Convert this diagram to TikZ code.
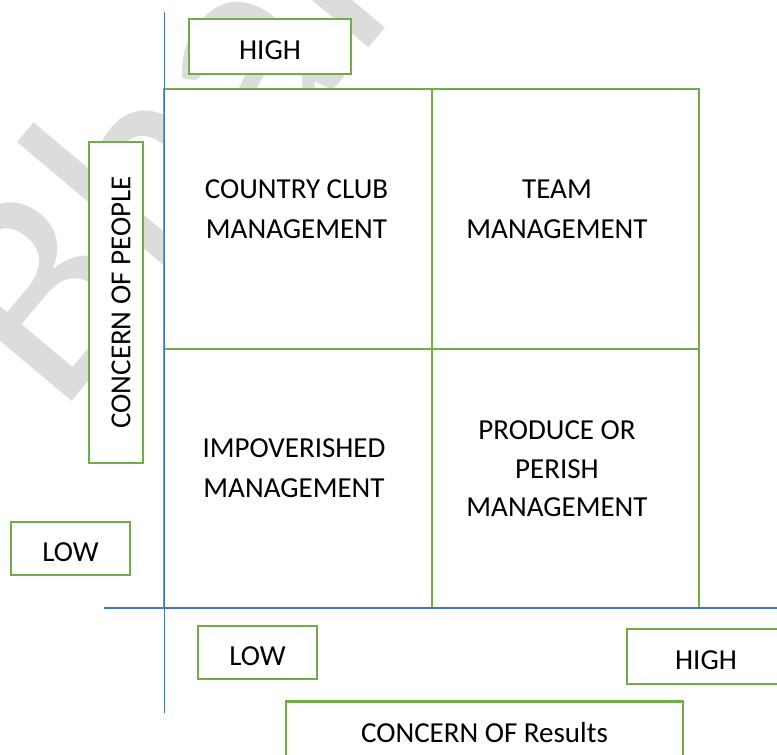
\documentclass[tikz,border=0pt]{standalone}
\usepackage{fontspec}
\setmainfont{Carlito}
\definecolor{boxgreen}{HTML}{70AD47}
\definecolor{axisblue}{HTML}{4472C4}
\definecolor{wmgray}{HTML}{DCDCDC}
\begin{document}
\begin{tikzpicture}[x=1pt,y=-1pt,
  txt/.style={font=\fontsize{29}{40}\selectfont, align=center, inner sep=0pt},
  tag/.style={draw=boxgreen, fill=white, line width=2.2pt, inner sep=0pt,
              text height=25pt, text depth=0pt,
              font=\fontsize{29}{40}\selectfont},
  grid/.style={draw=boxgreen, line width=2.2pt},
  axis/.style={draw=axisblue, line width=1.3pt}]
\useasboundingbox (0,0) rectangle (777,755);
\clip (0,0) rectangle (777,755);
\fill[white] (0,0) rectangle (777,755);

% watermark along the page diagonal
\node[rotate=50, anchor=base west, inner sep=0pt, text=wmgray,
      font=\fontsize{300}{300}\selectfont] (wm) at (58,418) {Bharat};

% quadrant grid
\fill[white] (164,89) rectangle (699,608);
\draw[grid] (164,89) rectangle (699,608);
\draw[grid] (432,89) -- (432,608);
\draw[grid] (164,349) -- (699,349);

% axes
\coordinate (ytop) at (164.5,12);
\coordinate (ybot) at (164.5,713);
\coordinate (xleft) at (104,608);
\coordinate (xright) at (777,608);
\draw[axis] (ytop) -- (ybot);
\draw[axis] (xleft) -- (xright);

% quadrant labels
\node[txt] (cc) at (296.5,209) {COUNTRY CLUB\\MANAGEMENT};
\node[txt] (team) at (557,209) {TEAM\\MANAGEMENT};
\node[txt] (impov) at (294,468) {IMPOVERISHED\\MANAGEMENT};
\node[txt, font=\fontsize{29}{38.5}\selectfont] (pop) at (557,469) {PRODUCE OR\\PERISH\\MANAGEMENT};

% axis tags
\node[tag, minimum width=162pt, minimum height=55pt] (hightop) at (270,46.5) {HIGH};
\node[tag, rotate=90, text height=28.7pt, minimum width=321pt, minimum height=54pt] (people) at (116,302.5) {CONCERN OF PEOPLE};
\node[tag, minimum width=119pt, minimum height=53pt] (lowleft) at (70.5,548.5) {LOW};
\node[tag, minimum width=119pt, minimum height=53pt] (lowbot) at (257.5,652.5) {LOW};
\node[tag, minimum width=158pt, minimum height=55pt] (highright) at (706,656.5) {HIGH};
\node[tag, minimum width=397pt, minimum height=56pt] (results) at (484.5,729.5) {CONCERN OF Results};
\end{tikzpicture}
\end{document}
